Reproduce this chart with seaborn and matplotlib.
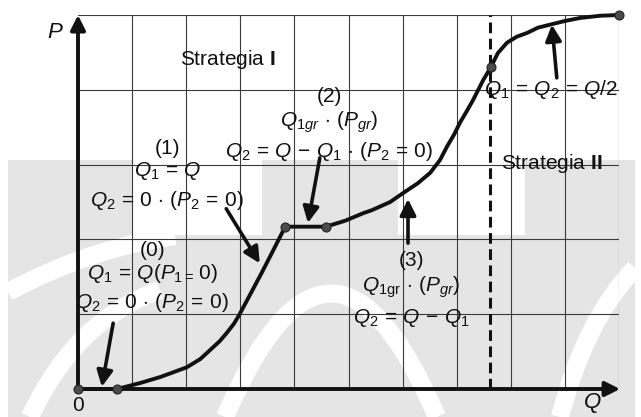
import numpy as np
import pandas as pd
import matplotlib
matplotlib.use("Agg")
import matplotlib.pyplot as plt
import matplotlib.patches as mpatches
from matplotlib.path import Path
import seaborn as sns

sns.set_theme(style="white")
plt.rcParams["font.family"] = ["Liberation Sans", "DejaVu Sans"]
plt.rcParams["mathtext.fontset"] = "custom"
plt.rcParams["mathtext.rm"] = "Liberation Sans"
plt.rcParams["mathtext.it"] = "Liberation Sans:italic"
plt.rcParams["mathtext.bf"] = "Liberation Sans:bold"

## curve P(Q) (grid units)
curve_q = [0.0, 0.72, 1.15, 1.52, 2.01, 2.26, 2.44, 2.62, 2.75, 2.88, 2.98,
           3.18, 3.40, 3.62, 3.83,
           4.58, 4.94, 5.27, 5.43, 5.77, 6.01, 6.28, 6.51, 6.69, 6.82,
           6.95, 7.06, 7.19, 7.30, 7.49, 7.63,
           7.76, 7.93, 8.11, 8.30, 8.50, 8.72, 9.00, 9.28, 9.65, 10.0]
curve_p = [0.0, 0.0, 0.08, 0.16, 0.29, 0.40, 0.52, 0.64, 0.75, 0.87, 0.99,
           1.26, 1.56, 1.87, 2.17,
           2.17, 2.25, 2.35, 2.39, 2.50, 2.62, 2.75, 2.89, 3.06, 3.24,
           3.40, 3.56, 3.72, 3.86, 4.13, 4.30,
           4.49, 4.63, 4.71, 4.76, 4.83, 4.87, 4.92, 4.96, 4.99, 5.0]
# break points of the strategies
knot_q = [0.0, 0.72, 3.83, 4.58, 7.63, 10.0]
knot_p = [0.0, 0.0, 2.17, 2.17, 4.30, 5.0]
split_q = 7.62

# arrows: (tail q, tail p, head q, head p)
arrow_tail_q = [0.65, 2.74, 4.47, 6.10, 8.85]
arrow_tail_p = [0.88, 2.41, 3.09, 1.95, 4.16]
arrow_head_q = [0.44, 3.36, 4.25, 6.10, 8.76]
arrow_head_p = [0.03, 1.68, 2.22, 2.54, 4.87]

labels = [
    ("(1)", 1.65, 3.21), (r"$Q_1\,=\,Q$", 1.65, 2.91), (r"$Q_2\,=\,0\,\cdot\,(P_2\,=\,0)$", 1.65, 2.52),
    ("(2)", 4.65, 3.91), (r"$Q_{1gr}\,\cdot\,(P_{gr})$", 4.65, 3.57),
    (r"$Q_2\,=\,Q\,-\,Q_1\,\cdot\,(P_2\,=\,0)$", 4.65, 3.17),
    ("(0)", 1.37, 1.85), (r"$Q_1\,=\,Q(P_{1=}\,0)$", 1.37, 1.55), (r"$Q_2\,=\,0\,\cdot\,(P_2\,=\,0)$", 1.37, 1.16),
    ("(3)", 6.16, 1.72), (r"$Q_{\mathrm{1gr}}\,\cdot\,(P_{gr})$", 6.16, 1.36), (r"$Q_2\,=\,Q\,-\,Q_1$", 6.16, 0.95),
    (r"$Q_1\,=\,Q_2\,=\,Q/2$", 8.74, 4.00),
]

fig = plt.figure(figsize=(6.41, 4.17), dpi=100)

## faint watermark behind the chart (pixel coordinates)
bg = fig.add_axes([0, 0, 1, 1], zorder=0)
bg.set_xlim(0, 641)
bg.set_ylim(417, 0)
bg.axis("off")
wm = "#e5e5e5"
bg.add_patch(mpatches.Rectangle((8, 160), 627, 257, color=wm, lw=0))
bg.add_patch(mpatches.Rectangle((133, 160), 129, 75, color="white", lw=0))
bg.add_patch(mpatches.Rectangle((398, 160), 127, 75, color="white", lw=0))
for pts in [[(225, 417), (331, 170), (437, 417)],
            [(8, 292), (90, 248), (175, 236)],
            [(30, 417), (75, 320), (160, 290)],
            [(635, 268), (585, 320), (560, 417)]]:
    path = Path(pts, [Path.MOVETO, Path.CURVE3, Path.CURVE3])
    bg.add_patch(mpatches.PathPatch(path, fc="none", ec="white", lw=13))

ax = fig.add_axes([78 / 641, 28 / 417, 541 / 641, 374 / 417], zorder=1)
ax.patch.set_alpha(0)
ax.set_xlim(0, 10)
ax.set_ylim(0, 5)
for s in ax.spines.values():
    s.set_visible(False)
ax.set_xticks([])
ax.set_yticks([])

for q in range(1, 11):
    ax.axvline(q, color="#3a3a3a", lw=0.8, zorder=1)
for p in range(1, 6):
    ax.axhline(p, color="#3a3a3a", lw=0.8, zorder=1)

# thick axes with arrow heads
ax.annotate("", xy=(0, 5.0), xytext=(0, 0), annotation_clip=False,
            arrowprops=dict(arrowstyle="-|>", lw=2.8, color="#111111",
                            mutation_scale=22, shrinkA=0, shrinkB=0))
ax.annotate("", xy=(10.02, 0), xytext=(0, 0), annotation_clip=False,
            arrowprops=dict(arrowstyle="-|>", lw=2.8, color="#111111",
                            mutation_scale=22, shrinkA=0, shrinkB=0))

ax.axvline(split_q, color="#111111", lw=2.2, ls=(0, (3.5, 1.8)), zorder=2)

df = pd.DataFrame({"Q": curve_q, "P": curve_p})
sns.lineplot(data=df, x="Q", y="P", sort=False, color="#111111", lw=2.8,
             ax=ax, zorder=3)
for line in ax.lines[-1:]:
    line.set_clip_on(False)
    line.set_solid_joinstyle("round")
ax.scatter(knot_q, knot_p, s=42, color="#4a4a4a", edgecolor="#222222",
           lw=0.8, zorder=4, clip_on=False)

for tq, tp, hq, hp in zip(arrow_tail_q, arrow_tail_p, arrow_head_q, arrow_head_p):
    ax.annotate("", xy=(hq, hp), xytext=(tq, tp),
                arrowprops=dict(arrowstyle="-|>", lw=2.6, color="#111111",
                                mutation_scale=24, shrinkA=0, shrinkB=0),
                zorder=5)

fs = 15
for txt, q, p in labels:
    ax.text(q, p, txt, fontsize=fs, ha="center", va="center", color="#111111", zorder=6)

ax.text(2.77, 4.40, r"Strategia $\mathbf{I}$", fontsize=fs, ha="center", va="center", color="#111111")
ax.text(7.82, 3.01, r"Strategia $\mathbf{II}$", fontsize=fs, ha="left", va="center", color="#111111")
ax.text(-0.42, 4.77, "$P$", fontsize=fs + 1, ha="center", va="center", color="#111111")
ax.text(0.0, -0.22, "0", fontsize=fs, ha="center", va="center", color="#111111")
ax.text(9.5, -0.19, "$Q$", fontsize=fs + 1, ha="center", va="center", color="#111111")

fig.savefig("out.png", dpi=100)
